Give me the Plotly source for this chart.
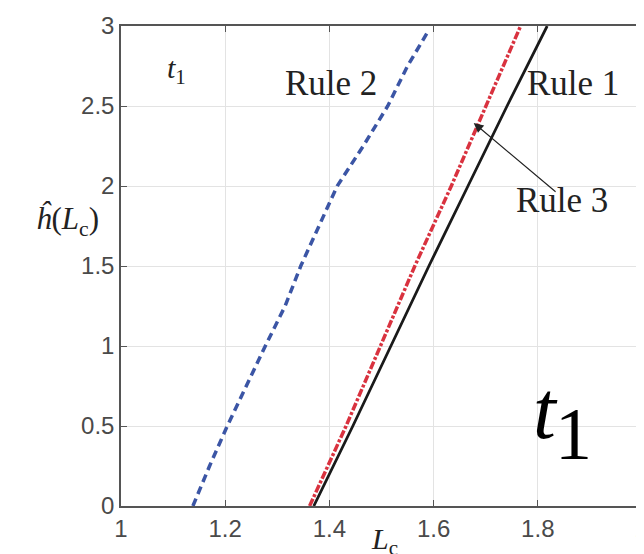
import plotly.graph_objects as go

# Data
h_vals = [0, 0.25, 0.5, 0.75, 1.0, 1.25, 1.5, 1.75, 2.0, 2.25, 2.5, 2.75, 2.97]
rule2_L = [1.138, 1.170, 1.204, 1.240, 1.277, 1.315, 1.345, 1.380, 1.415, 1.465, 1.512, 1.550, 1.590]

h_lin = [0, 0.5, 1.0, 1.5, 2.0, 2.5, 3.0]
rule3_L = [1.362, 1.432, 1.498, 1.564, 1.634, 1.700, 1.767]
rule1_L = [1.370, 1.445, 1.518, 1.591, 1.666, 1.741, 1.818]

x_ticks = [1, 1.2, 1.4, 1.6, 1.8, 2]
x_tick_text = ["1", "1.2", "1.4", "1.6", "1.8", "2"]
y_ticks = [0, 0.5, 1, 1.5, 2, 2.5, 3]
y_tick_text = ["0", "0.5", "1", "1.5", "2", "2.5", "3"]

fig = go.Figure()
fig.add_trace(go.Scatter(x=rule2_L, y=h_vals, mode="lines",
                         line=dict(color="#3b55a5", width=3.5, dash="8px,5px")))
fig.add_trace(go.Scatter(x=rule3_L, y=h_lin, mode="lines",
                         line=dict(color="#d9323f", width=3.5, dash="8px,2px,3px,2px")))
fig.add_trace(go.Scatter(x=rule1_L, y=h_lin, mode="lines",
                         line=dict(color="#1a1a1a", width=2.8)))

serif = "Liberation Serif"
ann = [
    dict(x=1.106, y=2.725, text="<i>t</i><sub>1</sub>", font=dict(family=serif, size=30, color="#222")),
    dict(x=1.404, y=2.64, text="Rule 2", font=dict(family=serif, size=35, color="#222")),
    dict(x=1.868, y=2.64, text="Rule 1", font=dict(family=serif, size=35, color="#222")),
    dict(x=1.846, y=1.91, text="Rule 3", font=dict(family=serif, size=35, color="#222")),
    dict(x=1.815, y=0.60, text="<i>t</i>", font=dict(family=serif, size=82, color="#000")),
    dict(x=1.868, y=0.45, text="1", font=dict(family=serif, size=74, color="#000")),
    dict(x=1.677, y=2.394, ax=1.837, ay=1.956, axref="x", ayref="y", text="",
         showarrow=True, arrowhead=2, arrowsize=1.6, arrowwidth=1.2, arrowcolor="#222"),
    dict(x=-0.102, y=1.78, text="<i>ĥ</i>(<i>L</i><sub>c</sub>)", xref="paper",
         xanchor="center", yanchor="middle",
         font=dict(family=serif, size=31, color="#222")),
    dict(x=0.505, y=-0.072, text="<i>L</i><sub>c</sub>", xref="paper", yref="paper",
         xanchor="center", yanchor="middle",
         font=dict(family=serif, size=30, color="#222")),
]
for a in ann:
    a.setdefault("showarrow", False)
fig.update_layout(annotations=ann)

axis_common = dict(showgrid=True, gridcolor="#e3e3e3", gridwidth=1, automargin=False,
                   showline=True, linecolor="#555", linewidth=1.5, mirror="ticks",
                   ticks="inside", ticklen=6, tickcolor="#555", zeroline=False,
                   tickfont=dict(family="Liberation Sans", size=24, color="#4a4a4a"))
fig.update_xaxes(range=[1, 2], tickvals=x_ticks, ticktext=x_tick_text, **axis_common)
fig.update_yaxes(range=[0, 3], tickvals=y_ticks, ticktext=y_tick_text, **axis_common)

fig.update_layout(width=644, height=554, margin=dict(l=113, r=10, t=18, b=56),
                  plot_bgcolor="white", paper_bgcolor="white", showlegend=False)
fig.write_html("out.html")
